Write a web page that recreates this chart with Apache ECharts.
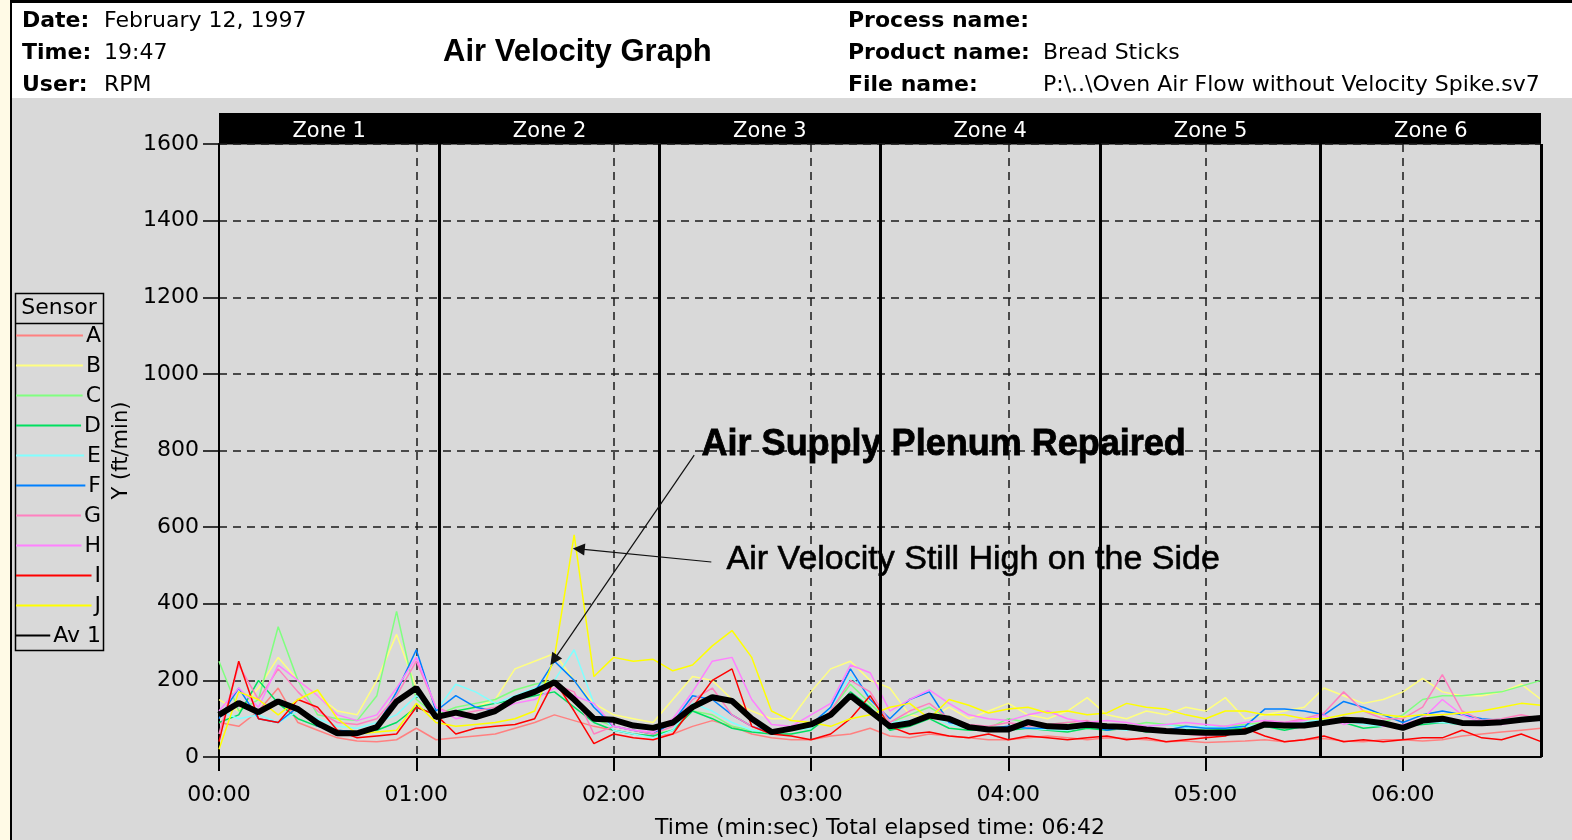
<!DOCTYPE html>
<html><head><meta charset="utf-8">
<script src="https://cdn.jsdelivr.net/npm/echarts@6/dist/echarts.min.js"></script>
<style>html,body{margin:0;padding:0;background:#d9d9d9;overflow:hidden}#c{width:1572px;height:840px}</style>
</head><body><div id="c"></div>
<script>
// ---- data (time in seconds, velocity in ft/min) ----
const times = [0,6,12,18,24,30,36,42,48,54,60,66,72,78,84,90,96,102,108,114,120,126,132,138,144,150,156,162,168,174,180,186,192,198,204,210,216,222,228,234,240,246,252,258,264,270,276,282,288,294,300,306,312,318,324,330,336,342,348,354,360,366,372,378,384,390,396,402];
const sensorNames = ['A','B','C','D','E','F','G','H','I','J','Av 1'];
const sensorColors = ['#ff8080','#ffff80','#80ff80','#00e060','#80ffff','#0080ff','#ff80c0','#ff80ff','#ff0000','#ffff00','#000000'];
const sensorA = [90,80,120,180,90,70,50,42,40,45, 75,45,50,55,60,75,90,110,95,80, 70,60,55,60,80,95,80,60,50,45, 45,55,60,75,55,50,60,55,50,45, 45,50,55,50,45,50,48,45,40,42, 38,40,42,45,40,45,48,42,40,45, 45,42,45,55,60,65,70,75];
const sensorB = [150,120,180,260,200,160,120,110,200,320, 180,110,120,130,150,230,250,270,200,140, 110,100,90,150,210,200,150,120,100,100, 170,230,250,200,180,110,100,130,100,120, 140,110,100,120,155,110,100,120,110,130, 120,155,100,110,120,130,180,160,140,150, 170,205,170,160,160,170,190,150];
const sensorC = [250,120,150,340,200,110,100,95,160,380, 150,110,130,140,150,175,190,200,150,100, 80,70,60,70,120,110,80,70,65,70, 75,120,190,140,90,110,130,100,80,75, 100,90,85,90,80,75,80,90,85,80, 75,80,85,90,75,80,90,100,95,90, 110,150,160,160,165,170,185,200];
const sensorD = [90,110,200,140,100,80,70,65,70,90, 130,110,120,130,140,150,160,170,130,90, 70,60,55,70,120,100,75,65,60,60, 70,110,170,130,70,80,100,75,70,70, 70,75,70,65,75,70,75,65,70,72, 70,72,75,80,70,80,95,90,75,80, 80,85,90,85,90,95,100,105];
const sensorE = [120,100,110,90,120,100,80,75,90,110, 160,120,190,170,140,160,180,200,280,140, 70,60,50,70,140,120,90,70,65,70, 75,130,210,160,90,95,110,85,75,70, 80,75,72,70,80,75,70,80,85,75, 80,75,80,85,80,90,100,95,85,80, 85,90,90,85,95,100,100,105];
const sensorF = [100,180,100,90,130,80,70,65,80,170, 280,120,160,130,120,150,170,250,200,130, 80,70,60,90,160,150,110,80,65,75, 85,130,230,150,100,150,170,90,80,75, 80,75,75,80,85,70,80,75,70,80, 75,75,80,125,125,120,110,145,130,110, 90,110,120,110,100,95,100,95];
const sensorG = [60,240,150,230,170,120,90,85,100,160, 250,130,110,120,130,150,170,190,170,60, 80,70,60,80,150,180,110,80,60,70, 80,120,200,170,90,120,140,100,85,80, 90,80,85,90,95,80,75,70,65,60, 55,60,65,95,90,100,115,170,120,100, 100,130,215,120,95,100,110,100];
const sensorH = [120,180,130,240,200,160,110,95,110,180, 260,130,100,110,120,140,150,180,160,140, 80,70,65,100,170,250,260,150,85,80, 110,140,240,220,120,150,175,140,110,100, 95,110,120,100,90,95,90,80,85,90, 85,80,90,95,90,95,110,85,100,80, 85,100,150,110,90,85,95,100];
const sensorI = [40,250,100,90,150,130,70,50,55,60, 130,110,60,75,80,85,100,200,120,35, 60,50,45,60,130,200,230,80,60,55, 45,60,100,160,80,60,65,55,50,60, 45,55,50,45,50,55,45,50,40,45, 50,55,75,55,40,45,55,40,45,40, 45,50,50,70,50,45,60,40];
const sensorJ = [20,170,150,110,150,175,100,60,65,70, 140,90,80,85,90,100,120,260,580,210, 260,250,255,225,240,290,330,260,120,95, 90,80,100,110,130,140,100,150,135,115, 125,130,115,120,110,115,140,130,125,110, 100,120,120,110,110,100,100,110,120,110, 105,110,110,115,120,130,140,135];
const average1 = [110,141,117,145,125,88,62,62,78,145, 180,104,116,104,120,152,170,195,150,100, 97,82,76,90,130,156,146,100,65,74, 85,110,160,120,80,88,108,100,78,72, 72,91,80,78,84,80,78,72,68,65, 63,63,66,85,82,82,89,97,95,88, 76,95,100,89,88,91,97,102];
const zoneNames = ['Zone 1','Zone 2','Zone 3','Zone 4','Zone 5','Zone 6'];
const zoneEdges = [67,134,201,268,335,402];
const xTickValues = [0,60,120,180,240,300,360];
const annotationTexts = ['Air Supply Plenum Repaired','Air Velocity Still High on the Side'];
const annotationTextAt = [[146.6,815],[154.2,514]];
const annotationArrowFrom = [[144.5,788],[149.7,509]];
const annotationArrowTo = [[101.8,253],[109.4,543]];

const allValues = [sensorA,sensorB,sensorC,sensorD,sensorE,sensorF,sensorG,sensorH,sensorI,sensorJ,average1];
const FONT = 'DejaVu Sans';
const pad = n => (n < 10 ? '0' : '') + n;
const fmt = v => pad(Math.floor(v / 60)) + ':' + pad(Math.round(v % 60));

const chart = echarts.init(document.getElementById('c'), null, {renderer: 'canvas'});

// legend (drawn as graphic, right-aligned letters like the original)
const mctx = document.createElement('canvas').getContext('2d');
mctx.font = '22px "' + FONT + '"';
const legendEls = [
  {type:'rect', shape:{x:15.5,y:293.5,width:88,height:357}, style:{fill:'none',stroke:'#000',lineWidth:1.5}},
  {type:'line', shape:{x1:15.5,y1:323.5,x2:103.5,y2:323.5}, style:{stroke:'#000',lineWidth:1.5}},
  {type:'text', x:59, y:308, style:{text:'Sensor', font:'22px "' + FONT + '"', fill:'#000', align:'center', verticalAlign:'middle'}}
];
sensorNames.forEach((n, i) => {
  const y = 335 + 30 * i;
  const w = mctx.measureText(n).width;
  legendEls.push({type:'line', shape:{x1:16, y1:y+0.5, x2:100 - w - 2, y2:y+0.5}, style:{stroke:sensorColors[i], lineWidth:2}});
  legendEls.push({type:'text', x:101, y:y+1, style:{text:n, font:'22px "' + FONT + '"', fill:'#000', align:'right', verticalAlign:'middle'}});
});

const hdr = (txt, x, y, bold) => ({type:'text', x:x, y:y, style:{text:txt, font:(bold?'bold ':'') + '22px "' + FONT + '"', fill:'#000', verticalAlign:'middle'}});

const graphicEls = [
  {type:'rect', shape:{x:0,y:0,width:10,height:840}, style:{fill:'#fffae6'}},
  {type:'rect', shape:{x:10,y:0,width:2,height:840}, style:{fill:'#000'}},
  {type:'rect', shape:{x:10,y:0,width:1562,height:3}, style:{fill:'#000'}},
  {type:'rect', shape:{x:12,y:3,width:1560,height:95}, style:{fill:'#fff'}},
  hdr('Date:', 22, 21, true), hdr('February 12, 1997', 104, 21, false),
  hdr('Time:', 22, 53, true), hdr('19:47', 104, 53, false),
  hdr('User:', 22, 85, true), hdr('RPM', 104, 85, false),
  {type:'text', x:443, y:52, style:{text:'Air Velocity Graph', font:'bold 31px "Liberation Sans"', fill:'#000', verticalAlign:'middle'}},
  hdr('Process name:', 848, 21, true),
  hdr('Product name:', 848, 53, true), hdr('Bread Sticks', 1043, 53, false),
  hdr('File name:', 848, 85, true), hdr('P:\\..\\Oven Air Flow without Velocity Spike.sv7', 1043, 85, false)
].concat(legendEls);

const series = sensorNames.map((n, i) => ({
  name: n, type: 'line', xAxisIndex: 0, yAxisIndex: 0,
  data: times.map((t, k) => [t, allValues[i][k]]),
  symbol: 'none', showSymbol: false, animation: false, silent: true,
  lineStyle: {color: sensorColors[i], width: i === 10 ? 6 : 1.5},
  itemStyle: {color: sensorColors[i]},
  z: i === 10 ? 4 : 2
}));
series[0].markLine = {
  silent: true, animation: false, symbol: ['none','none'],
  label: {show: false},
  lineStyle: {color:'#000', type:'solid', width:3},
  data: zoneEdges.map(v => ({xAxis: v}))
};
series[10].markLine = {
  silent: true, animation: false, symbol: ['none','triangle'], symbolSize: 12,
  label: {show: false},
  lineStyle: {color:'#111', type:'solid', width:1.2},
  itemStyle: {color:'#000'},
  data: annotationArrowFrom.map((f, i) => [{coord: f}, {coord: annotationArrowTo[i]}])
};
series[10].markPoint = {
  silent: true, animation: false, symbol: 'circle', symbolSize: 1,
  itemStyle: {color: 'rgba(0,0,0,0)'},
  data: annotationTexts.map((t, i) => ({
    coord: annotationTextAt[i],
    label: {show: true, position: 'right', distance: 0, formatter: t, color: '#000',
      fontFamily: 'Liberation Sans',
      fontSize: i === 0 ? 36 : 34, fontWeight: i === 0 ? 'bold' : 'normal',
      textBorderColor: '#000', textBorderWidth: i === 0 ? 0.8 : 0.6}
  }))
};
series.push({type:'line', xAxisIndex:1, yAxisIndex:1, data:[], silent:true});

chart.setOption({
  animation: false,
  backgroundColor: '#d9d9d9',
  textStyle: {fontFamily: FONT},
  grid: [
    {left:219, right:31, top:144, bottom:83, show:true, borderColor:'#000', borderWidth:1, backgroundColor:'transparent', containLabel:false, outerBoundsMode:'none'},
    {left:219, right:31, top:113, height:31, show:true, borderWidth:0, backgroundColor:'#000', containLabel:false, outerBoundsMode:'none'}
  ],
  xAxis: [
    {type:'value', gridIndex:0, min:0, max:402, interval:60,
     axisLine:{show:true, onZero:false, lineStyle:{color:'#000', width:2}},
     axisTick:{show:true, length:14, lineStyle:{color:'#000', width:2}, customValues: xTickValues},
     axisLabel:{show:true, color:'#000', fontSize:22, fontFamily:FONT, margin:27, formatter: fmt, customValues: xTickValues},
     splitLine:{show:true, lineStyle:{color:'#1a1a1a', type:[8,6], width:1.5}},
     name:'Time (min:sec) Total elapsed time: 06:42', nameLocation:'middle', nameGap:60,
     nameTextStyle:{fontSize:22, color:'#000', fontFamily:FONT}},
    {type:'category', gridIndex:1, data: zoneNames, position:'top', boundaryGap:true,
     axisLine:{show:false}, axisTick:{show:false}, splitLine:{show:false},
     axisLabel:{show:true, inside:true, color:'#fff', fontSize:21, fontFamily:FONT, margin:8, interval:0}}
  ],
  yAxis: [
    {type:'value', gridIndex:0, min:0, max:1600, interval:200,
     axisLine:{show:true, onZero:false, lineStyle:{color:'#000', width:2}},
     axisTick:{show:true, length:16, lineStyle:{color:'#000', width:1.5}},
     axisLabel:{show:true, color:'#000', fontSize:22, fontFamily:FONT, margin:20, formatter: v => String(v)},
     splitLine:{show:true, lineStyle:{color:'#1a1a1a', type:[8,6], width:1.5}},
     name:'Y (ft/min)', nameLocation:'middle', nameGap:87,
     nameTextStyle:{fontSize:21, color:'#000', fontFamily:FONT}},
    {type:'value', gridIndex:1, show:false}
  ],
  graphic: graphicEls,
  series: series
});
</script></body></html>
